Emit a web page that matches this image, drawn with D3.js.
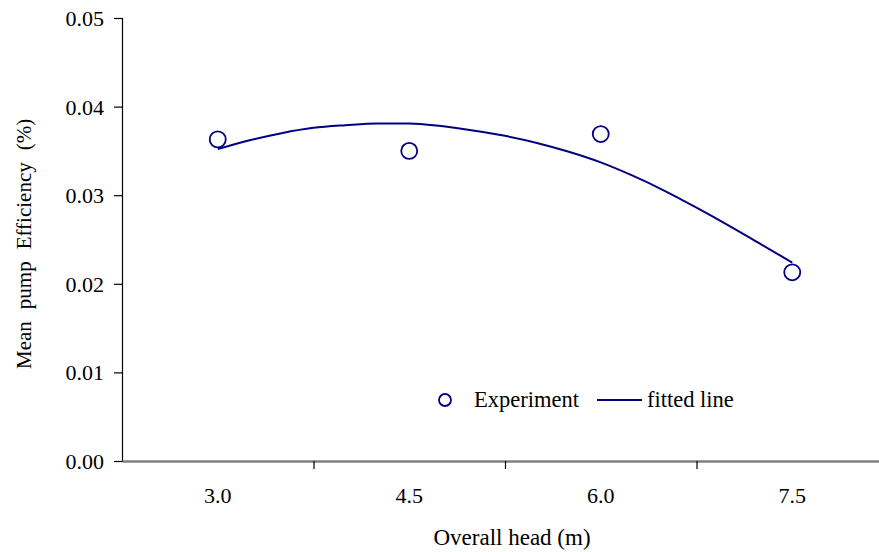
<!DOCTYPE html>
<html>
<head>
<meta charset="utf-8">
<script src="https://cdn.jsdelivr.net/npm/d3@7"></script>
<style>
  html, body { margin: 0; padding: 0; background: #fff; }
  svg { display: block; }
  svg text { font-family: "Liberation Serif", "Times New Roman", serif; fill: #000; }
</style>
</head>
<body>
<svg id="chart" width="879" height="552"></svg>
<script>
// Measured points
const heads = [3.0, 4.5, 6.0, 7.5];
const efficiency = [0.0363, 0.0350, 0.0369, 0.0213];

// Fitted curve, sampled along the head axis
const fitHeads = [3.0, 3.25, 3.5, 3.75, 4.0, 4.25, 4.5, 4.75, 5.0, 5.25, 5.5, 5.75, 6.0, 6.25, 6.5, 6.75, 7.0, 7.25, 7.5];
const fitEfficiency = [0.0352, 0.0362, 0.0370, 0.0376, 0.0379, 0.0381, 0.0381, 0.0378, 0.0373, 0.0367, 0.0359, 0.0349, 0.0337, 0.0322, 0.0305, 0.0286, 0.0266, 0.0245, 0.0224];

// Axis ticks
const yTicks = [0, 0.01, 0.02, 0.03, 0.04, 0.05];
const xTickLabels = ["3.0", "4.5", "6.0", "7.5"];
const xBoundaries = [3.75, 5.25, 6.75];
const yTitleWords = ["Mean", "pump", "Efficiency", "(%)"];

const svg = d3.select("#chart");
const plotLeft = 122, plotRight = 888, plotTop = 18, plotBottom = 461;

const x = d3.scaleLinear().domain([2.25, 8.25]).range([plotLeft, plotRight]);
const y = d3.scaleLinear().domain([0, 0.05]).range([plotBottom, plotTop]);

const navy = "#000080";
const fontSize = 22;
const serif = "Liberation Serif, Times New Roman, serif";

// Y axis
const yAxis = svg.append("g")
  .attr("transform", `translate(${plotLeft},0)`)
  .call(d3.axisLeft(y).tickValues(yTicks).tickFormat(d3.format(".2f")).tickSize(8).tickPadding(10))
  .attr("font-family", serif)
  .attr("font-size", fontSize);
yAxis.select(".domain").attr("stroke", "#000").attr("stroke-width", 1.2);
yAxis.selectAll(".tick line").attr("stroke", "#000").attr("stroke-width", 1.2);
yAxis.selectAll(".tick text").attr("fill", "#000").attr("dy", "0.34em");

// X axis: ticks mark category boundaries, labels sit at category centres
const xAxis = svg.append("g")
  .attr("transform", `translate(0,${plotBottom})`)
  .call(d3.axisBottom(x).tickValues(xBoundaries).tickFormat("").tickSize(8).tickSizeOuter(0));
xAxis.select(".domain").attr("stroke", "#808080").attr("stroke-width", 2.5);
xAxis.selectAll(".tick line").attr("stroke", "#000").attr("stroke-width", 1.2);

svg.append("g").selectAll("text")
  .data(heads)
  .join("text")
  .attr("x", d => x(d))
  .attr("y", 503)
  .attr("text-anchor", "middle")
  .attr("font-size", fontSize)
  .text((d, i) => xTickLabels[i]);

// Axis titles
svg.append("text")
  .attr("x", 512).attr("y", 545)
  .attr("text-anchor", "middle")
  .attr("font-size", 23)
  .text("Overall head (m)");

// Rotated y title with widened word gaps
const yTitle = svg.append("text")
  .attr("transform", "translate(31,369) rotate(-90)")
  .attr("font-size", 21);
yTitle.selectAll("tspan")
  .data(yTitleWords)
  .join("tspan")
  .attr("dx", (d, i) => i === 0 ? 0 : 12)
  .text(d => d);

// Fitted line
const line = d3.line()
  .x((d, i) => x(fitHeads[i]))
  .y(d => y(d))
  .curve(d3.curveMonotoneX);

svg.append("path")
  .datum(fitEfficiency)
  .attr("d", line)
  .attr("fill", "none")
  .attr("stroke", navy)
  .attr("stroke-width", 2);

// Experimental points
svg.append("g").selectAll("circle")
  .data(efficiency)
  .join("circle")
  .attr("cx", (d, i) => x(heads[i]))
  .attr("cy", d => y(d))
  .attr("r", 8)
  .attr("fill", "none")
  .attr("stroke", navy)
  .attr("stroke-width", 1.8);

// Legend
const legend = svg.append("g");
legend.append("circle")
  .attr("cx", 445).attr("cy", 400).attr("r", 6)
  .attr("fill", "none").attr("stroke", navy).attr("stroke-width", 1.8);
legend.append("text")
  .attr("x", 474).attr("y", 407)
  .attr("font-size", 22.5)
  .text("Experiment");
legend.append("line")
  .attr("x1", 597).attr("x2", 642).attr("y1", 400).attr("y2", 400)
  .attr("stroke", navy).attr("stroke-width", 2);
legend.append("text")
  .attr("x", 647).attr("y", 407)
  .attr("font-size", 22.5)
  .text("fitted line");
</script>
</body>
</html>
